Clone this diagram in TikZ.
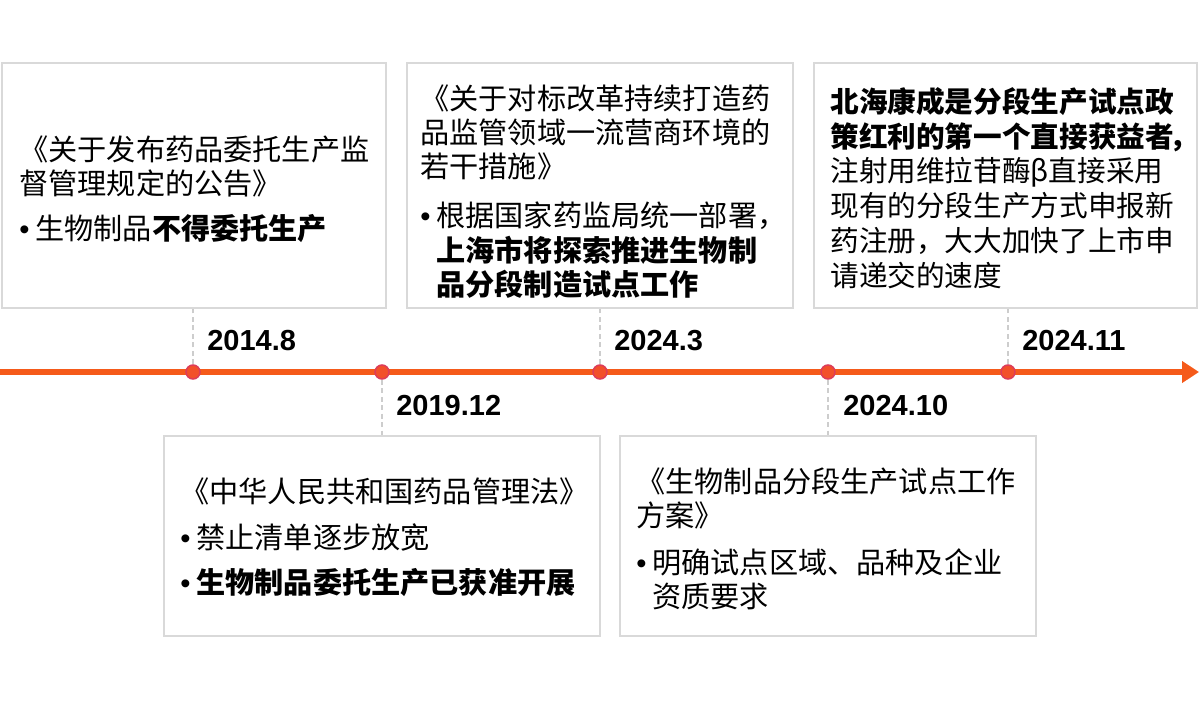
\documentclass[tikz,border=0pt]{standalone}
\usepackage{fontspec}
\setmainfont{Noto Sans CJK SC}
\newfontfamily\datefont{Liberation Sans}
\usetikzlibrary{arrows.meta,fit}

\definecolor{lineorange}{RGB}{245,90,26}
\definecolor{dotfill}{RGB}{242,80,42}
\definecolor{dotedge}{RGB}{220,60,90}
\definecolor{boxgray}{RGB}{217,217,217}
\definecolor{guidegray}{RGB}{205,205,205}

\tikzset{
	docbox/.style={draw=boxgray, line width=0.035cm, inner sep=0pt},
	textblock/.style={anchor=north west, inner sep=0pt, align=left, font=\fontsize{16.6pt}{19.6pt}\selectfont},
	datelabel/.style={anchor=west, inner sep=0pt, font=\datefont\bfseries\fontsize{16.5pt}{19pt}\selectfont},
	yeardot/.style={circle, fill=dotfill, draw=dotedge, line width=0.03cm, minimum size=0.28cm, inner sep=0pt},
	timeline/.style={draw=lineorange, line width=0.12cm, -{Triangle[length=0.34cm,width=0.42cm]}},
	guide/.style={draw=guidegray, line width=0.025cm, dash pattern=on 0.1cm off 0.07cm}
}
\newcommand{\bitem}{\makebox[0.32cm][l]{\datefont\textbullet}}
\newcommand{\bcont}{\hspace*{0.32cm}}

\begin{document}
\begin{tikzpicture}[x=0.02cm, y=-0.02cm]
	\useasboundingbox (0,0) rectangle (1200,710);
	
	%boxes
	\node[docbox, fit={(2,63) (386,308)}]    (b1) {};	%2014.8
	\node[docbox, fit={(407,63) (793,308)}]  (b2) {};	%2024.3
	\node[docbox, fit={(814,63) (1197,308)}] (b3) {};	%2024.11
	\node[docbox, fit={(164,436) (600,636)}] (b4) {};	%2019.12
	\node[docbox, fit={(620,436) (1036,636)}](b5) {};	%2024.10
	
	%timeline
	\coordinate (t0) at (0,372);
	\coordinate (t1) at (1199,372);
	\draw[timeline] (t0) -- (t1);
	
	%dots
	\node[yeardot] (d1) at (193,372) {};
	\node[yeardot] (d2) at (382,372) {};
	\node[yeardot] (d3) at (600,372) {};
	\node[yeardot] (d4) at (828,372) {};
	\node[yeardot] (d5) at (1008,372) {};
	
	%dashed guides
	\draw[guide] (d1) -- (d1 |- b1.south);	%up
	\draw[guide] (d2) -- (d2 |- b4.north);	%down
	\draw[guide] (d3) -- (d3 |- b2.south);	%up
	\draw[guide] (d4) -- (d4 |- b5.north);	%down
	\draw[guide] (d5) -- (d5 |- b3.south);	%up
	
	%dates
	\node[datelabel] (y1) at (207,341)  {2014.8};
	\node[datelabel] (y2) at (396,406)  {2019.12};
	\node[datelabel] (y3) at (614,341)  {2024.3};
	\node[datelabel] (y4) at (843,406)  {2024.10};
	\node[datelabel] (y5) at (1022,341) {2024.11};
	
	%box texts
	\node[textblock] (x1) at (19,135) {《关于发布药品委托生产监\\督管理规定的公告》\\[0.21cm]%
		\bitem 生物制品\textbf{不得委托生产}};
	\node[textblock] (x2) at (420,84) {《关于对标改革持续打造药\\品监管领域一流营商环境的\\若干措施》\\[0.29cm]%
		\bitem 根据国家药监局统一部署，\\\bcont\textbf{上海市将探索推进生物制}\\\bcont\textbf{品分段制造试点工作}};
	\node[textblock, font=\fontsize{16.3pt}{19.8pt}\selectfont] (x3) at (830,87) {\textbf{北海康成是分段生产试点政}\\\textbf{策红利的第一个直接获益者\kern-0.15em\makebox[0.35em][l]{，}}\\注射用维拉苷酶β直接采用\\%
		现有的分段生产方式申报新\\药注册，大大加快了上市申\\请递交的速度};
	\node[textblock] (x4) at (180,477) {《中华人民共和国药品管理法》\\[0.25cm]%
		\bitem 禁止清单逐步放宽\\[0.21cm]\bitem\textbf{生物制品委托生产已获准开展}};
	\node[textblock] (x5) at (636,467) {《生物制品分段生产试点工作\\方案》\\[0.25cm]%
		\bitem 明确试点区域、品种及企业\\\bcont 资质要求};
\end{tikzpicture}
\end{document}
